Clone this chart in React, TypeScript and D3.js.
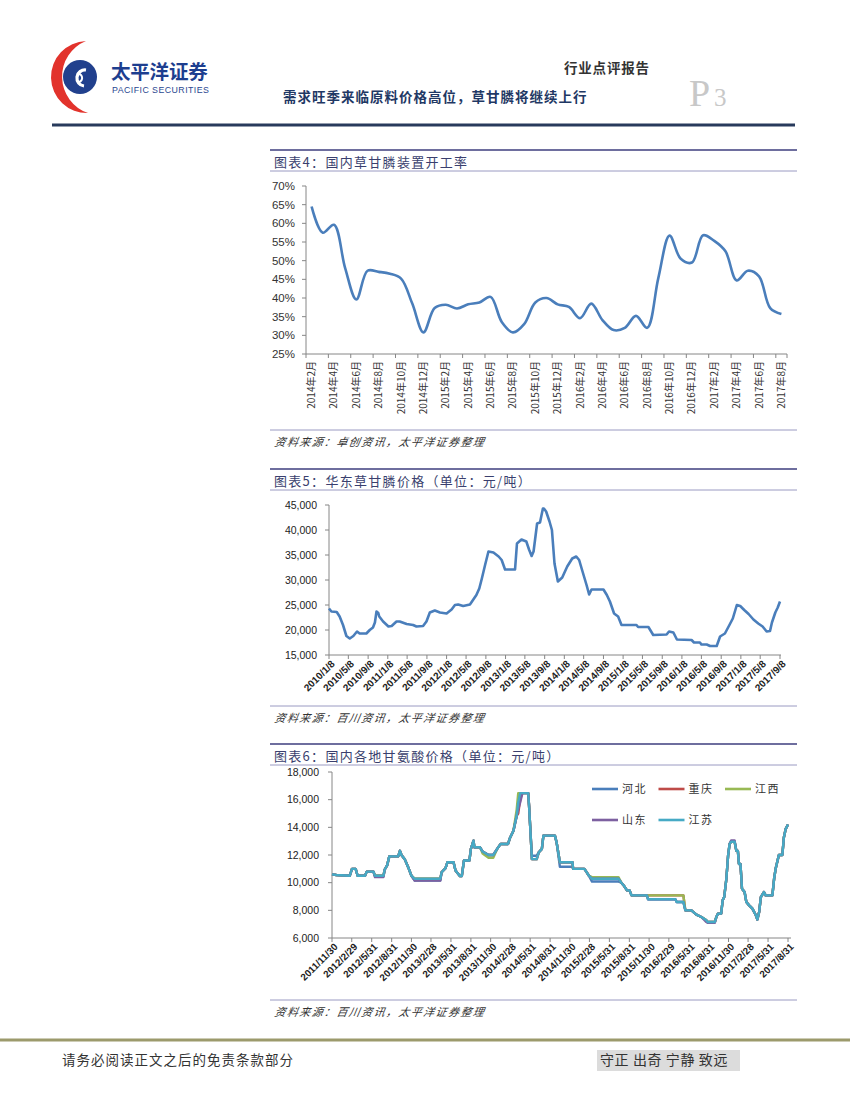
import React from "react";
import * as d3 from "d3";

// ---------------- Chart 4: 国内草甘膦装置开工率 (monthly, %) ----------------
const rateLabels = [
  "2014年2月", "2014年4月", "2014年6月", "2014年8月", "2014年10月", "2014年12月",
  "2015年2月", "2015年4月", "2015年6月", "2015年8月", "2015年10月", "2015年12月",
  "2016年2月", "2016年4月", "2016年6月", "2016年8月", "2016年10月", "2016年12月",
  "2017年2月", "2017年4月", "2017年6月", "2017年8月",
];
const rateValues = [
  64.5, 57.5, 59.6, 48, 39.6, 47.3, 47, 46.5, 45.2, 38.5, 30.8, 37.3, 38.2, 37.2, 38.3,
  38.8, 40.3, 33.6, 30.8, 33, 38.8, 40, 38.3, 37.6, 34.6, 38.5, 34.1, 31.4, 32, 35.2, 32,
  45.4, 56.7, 50.5, 49.5, 56.8, 55.3, 52.5, 44.7, 47.3, 45.8, 37.3, 35.7,
];
const rateTicks = [25, 30, 35, 40, 45, 50, 55, 60, 65, 70];

// ---------------- Chart 5: 华东草甘膦价格 ----------------
const priceDates = [
  "2010-01-08", "2010-01-23", "2010-02-25", "2010-03-15", "2010-04-05", "2010-04-26", "2010-05-17",
  "2010-06-08", "2010-07-01", "2010-07-17", "2010-08-28", "2010-09-18", "2010-10-08", "2010-10-20",
  "2010-10-30", "2010-11-10", "2010-11-16", "2010-12-10", "2011-01-12", "2011-02-01", "2011-03-03",
  "2011-03-23", "2011-05-05", "2011-06-14", "2011-07-05", "2011-08-15", "2011-09-05", "2011-09-26",
  "2011-10-27", "2011-11-28", "2012-01-08", "2012-02-08", "2012-02-29", "2012-03-20", "2012-04-20",
  "2012-06-01", "2012-06-20", "2012-07-11", "2012-07-29", "2012-08-14", "2012-09-03", "2012-09-24",
  "2012-10-25", "2012-11-26", "2012-12-15", "2013-01-05", "2013-03-08", "2013-03-20", "2013-04-17",
  "2013-05-17", "2013-06-04", "2013-06-19", "2013-07-01", "2013-07-23", "2013-08-10", "2013-08-28",
  "2013-09-03", "2013-09-17", "2013-10-08", "2013-10-23", "2013-11-08", "2013-11-29", "2013-12-26",
  "2014-01-26", "2014-02-26", "2014-03-23", "2014-04-10", "2014-05-01", "2014-05-26", "2014-06-11",
  "2014-06-26", "2014-09-08", "2014-09-29", "2014-10-18", "2014-11-13", "2014-12-08", "2014-12-29",
  "2015-04-01", "2015-04-11", "2015-06-14", "2015-07-14", "2015-10-05", "2015-10-20", "2015-11-16",
  "2015-12-08", "2016-03-08", "2016-03-23", "2016-04-29", "2016-05-08", "2016-06-10", "2016-07-01",
  "2016-08-11", "2016-09-01", "2016-10-01", "2016-10-29", "2016-11-19", "2016-12-14", "2017-01-04",
  "2017-01-29", "2017-02-25", "2017-03-27", "2017-04-26", "2017-05-23", "2017-06-17", "2017-07-08",
  "2017-07-20", "2017-08-10", "2017-08-25", "2017-09-08",
];
const priceValues = [
  24300, 23700, 23600, 22700, 21000, 18800, 18300,
  18800, 19700, 19300, 19300, 20000, 20500, 21500,
  23700, 23400, 22700, 21700, 20700, 20800, 21700,
  21700, 21200, 21000, 20700, 20800, 21700, 23500,
  23900, 23500, 23300, 24100, 25000, 25100, 24800,
  25100, 26000, 27000, 28300, 30300, 33000, 35700,
  35500, 34700, 34000, 32100, 32100, 37300, 38100,
  37700, 36000, 34800, 35700, 41300, 41500, 44300,
  44300, 43700, 41700, 40000, 33300, 29700, 30500,
  32700, 34300, 34700, 34000, 31700, 29000, 27100,
  28100, 28100, 27000, 25700, 23300, 22700, 21000,
  21000, 20600, 20600, 19000, 19100, 19700, 19500,
  18100, 18000, 17500, 17500, 17100, 17100, 16800,
  16800, 18700, 19300, 21000, 22300, 25000, 24800,
  24000, 23200, 22100, 21300, 20700, 19700, 19800,
  21500, 23500, 24500, 25700,
];
const priceTickLabels = [
  "2010/1/8", "2010/5/8", "2010/9/8", "2011/1/8", "2011/5/8", "2011/9/8", "2012/1/8", "2012/5/8",
  "2012/9/8", "2013/1/8", "2013/5/8", "2013/9/8", "2014/1/8", "2014/5/8", "2014/9/8", "2015/1/8",
  "2015/5/8", "2015/9/8", "2016/1/8", "2016/5/8", "2016/9/8", "2017/1/8", "2017/5/8", "2017/9/8",
];
const priceTicks = [15000, 20000, 25000, 30000, 35000, 40000, 45000];

// ---------------- Chart 6: 国内各地甘氨酸价格 ----------------
const glyDates = [
  "2011-11-30", "2011-12-20", "2012-02-20", "2012-03-01", "2012-03-18", "2012-03-27", "2012-04-30",
  "2012-05-08", "2012-06-08", "2012-06-15", "2012-07-24", "2012-07-30", "2012-08-10", "2012-08-20",
  "2012-09-30", "2012-10-08", "2012-10-15", "2012-10-30", "2012-11-18", "2012-11-30", "2012-12-15",
  "2013-04-12", "2013-04-18", "2013-05-06", "2013-05-15", "2013-06-12", "2013-06-21", "2013-07-12",
  "2013-07-20", "2013-07-30", "2013-08-24", "2013-08-31", "2013-09-12", "2013-09-16", "2013-10-12",
  "2013-10-24", "2013-11-20", "2013-12-12", "2013-12-30", "2014-01-15", "2014-02-18", "2014-02-28",
  "2014-03-15", "2014-03-30", "2014-04-06", "2014-04-15", "2014-04-25", "2014-05-22", "2014-05-26",
  "2014-05-31", "2014-06-08", "2014-06-30", "2014-07-10", "2014-07-24", "2014-07-31", "2014-09-22",
  "2014-09-30", "2014-10-15", "2014-12-12", "2014-12-15", "2015-02-05", "2015-02-15", "2015-02-25",
  "2015-03-12", "2015-07-12", "2015-07-25", "2015-08-05", "2015-08-20", "2015-09-01", "2015-09-10",
  "2015-11-20", "2015-11-25", "2016-03-30", "2016-04-05", "2016-05-06", "2016-05-15", "2016-06-12",
  "2016-07-05", "2016-07-28", "2016-08-20", "2016-08-25", "2016-09-28", "2016-10-05", "2016-10-12",
  "2016-10-27", "2016-11-03", "2016-11-10", "2016-11-20", "2016-11-28", "2016-12-05", "2016-12-12",
  "2016-12-28", "2017-01-05", "2017-01-12", "2017-01-17", "2017-01-24", "2017-01-31", "2017-02-12",
  "2017-02-20", "2017-03-05", "2017-03-20", "2017-04-05", "2017-04-12", "2017-04-20", "2017-04-28",
  "2017-05-12", "2017-05-20", "2017-06-20", "2017-06-28", "2017-07-05", "2017-07-20", "2017-08-05",
  "2017-08-12", "2017-08-20", "2017-08-31",
];
const hebei = [
  10600, 10550, 10500, 11000, 11000, 10500, 10500, 10800, 10800, 10500,
  10500, 10950, 11250, 11900, 11900, 12300, 12000, 11700, 11000, 10500,
  10150, 10150, 10750, 11050, 11480, 11480, 10880, 10470, 10470, 11600,
  11600, 12440, 13040, 12560, 12560, 12250, 12000, 12000, 12440, 12800,
  12800, 13270, 13750, 14830, 15800, 16470, 16470, 16470, 15550, 14100,
  11950, 11950, 12200, 12440, 13400, 13400, 12900, 11150, 11150, 11000,
  11000, 10760, 10520, 10080, 10080, 10000, 9800, 9440, 9440, 9080,
  9080, 8800, 8800, 8600, 8600, 8000, 8000, 7690, 7520, 7280,
  7160, 7160, 7520, 7760, 7760, 8720, 8960, 10280, 11960, 12800,
  12960, 12960, 12300, 12300, 11350, 11350, 9560, 9320, 8600, 8360,
  8120, 7640, 7330, 7880, 8960, 9320, 9080, 9080, 10280, 11000,
  12000, 12000, 13270, 13870, 14200,
];
const chongqing = [
  10600, 10550, 10500, 11000, 11000, 10500, 10500, 10800, 10800, 10500,
  10500, 10950, 11250, 11900, 11900, 12300, 12000, 11700, 11000, 10500,
  10280, 10280, 10750, 11050, 11480, 11480, 10880, 10470, 10470, 11600,
  11600, 12440, 13040, 12560, 12560, 12250, 12000, 12000, 12440, 12800,
  12800, 13270, 13750, 14830, 15000, 16000, 16470, 16470, 15550, 14100,
  11700, 11700, 12200, 12440, 13400, 13400, 12900, 11480, 11480, 11000,
  11000, 10760, 10520, 10280, 10280, 10000, 9800, 9440, 9440, 9080,
  9080, 9080, 9080, 9080, 9080, 8000, 8000, 7690, 7520, 7280,
  7160, 7160, 7520, 7760, 7760, 8720, 8960, 10280, 11960, 12800,
  12960, 12960, 12300, 12300, 11350, 11350, 9560, 9320, 8600, 8360,
  8120, 7640, 7330, 7880, 8960, 9320, 9080, 9080, 10280, 11000,
  12000, 12000, 13270, 13870, 14200,
];
const jiangxi = [
  10600, 10550, 10500, 11000, 11000, 10500, 10500, 10800, 10800, 10500,
  10500, 10950, 11250, 11900, 11900, 12300, 12000, 11700, 11000, 10500,
  10280, 10280, 10750, 11050, 11480, 11480, 10880, 10470, 10470, 11600,
  11600, 12440, 13040, 12560, 12560, 12100, 11800, 11800, 12440, 12800,
  12800, 13270, 13750, 15300, 16470, 16470, 16470, 16470, 15550, 14100,
  11700, 11700, 12200, 12440, 13400, 13400, 12900, 11480, 11480, 11000,
  11000, 10760, 10520, 10400, 10400, 10000, 9800, 9440, 9440, 9080,
  9080, 9080, 9080, 9080, 9080, 8000, 8000, 7690, 7520, 7280,
  7160, 7160, 7520, 7760, 7760, 8720, 8960, 10280, 11960, 12800,
  12960, 12960, 12300, 12300, 11350, 11350, 9560, 9320, 8600, 8360,
  8120, 7640, 7330, 7880, 8960, 9320, 9080, 9080, 10280, 11000,
  12000, 12000, 13270, 13870, 14200,
];
const shandong = [
  10600, 10550, 10500, 11000, 11000, 10500, 10500, 10800, 10800, 10400,
  10400, 10950, 11250, 11900, 11900, 12300, 12000, 11700, 11000, 10500,
  10150, 10150, 10750, 11050, 11480, 11480, 10880, 10470, 10470, 11600,
  11600, 12440, 13040, 12560, 12560, 12250, 12000, 12000, 12440, 12800,
  12800, 13270, 13750, 14830, 15300, 15800, 16470, 16470, 15550, 14100,
  11700, 11700, 12200, 12440, 13400, 13400, 12900, 11480, 11480, 11000,
  11000, 10760, 10520, 10280, 10280, 10000, 9800, 9440, 9440, 9080,
  9080, 8800, 8800, 8600, 8600, 8000, 8000, 7690, 7520, 7150,
  7100, 7100, 7520, 7760, 7760, 8720, 8960, 10280, 11960, 12800,
  13050, 13050, 12300, 12300, 11350, 11350, 9560, 9320, 8600, 8360,
  8120, 7640, 7330, 7880, 8960, 9320, 9080, 9080, 10280, 11000,
  12000, 12000, 13270, 13870, 14200,
];
const jiangsu = [
  10600, 10550, 10500, 11000, 11000, 10500, 10500, 10800, 10800, 10500,
  10500, 10950, 11250, 11900, 11900, 12300, 12000, 11700, 11000, 10500,
  10280, 10280, 10750, 11050, 11480, 11480, 10880, 10470, 10470, 11600,
  11600, 12440, 13040, 12560, 12560, 12250, 12000, 12000, 12440, 12800,
  12800, 13270, 13750, 14830, 15800, 16470, 16470, 16470, 15550, 14100,
  11700, 11700, 12200, 12440, 13400, 13400, 12900, 11480, 11480, 11000,
  11000, 10760, 10520, 10280, 10280, 10000, 9800, 9440, 9440, 9080,
  9080, 8800, 8800, 8600, 8600, 8000, 8000, 7690, 7520, 7280,
  7160, 7160, 7520, 7760, 7760, 8720, 8960, 10280, 11960, 12800,
  12960, 12960, 12300, 12300, 11350, 11350, 9560, 9320, 8600, 8360,
  8120, 7640, 7330, 7880, 8960, 9320, 9080, 9080, 10280, 11000,
  12000, 12000, 13270, 13870, 14200,
];
const glySeriesNames = ["河北", "重庆", "江西", "山东", "江苏"];
const glySeriesValues = [hebei, chongqing, jiangxi, shandong, jiangsu];
const glyColors = ["#4a7ebb", "#be4b48", "#98b954", "#7d60a0", "#46aac5"];
const glyTickLabels = [
  "2011/11/30", "2012/2/29", "2012/5/31", "2012/8/31", "2012/11/30", "2013/2/28", "2013/5/31",
  "2013/8/31", "2013/11/30", "2014/2/28", "2014/5/31", "2014/8/31", "2014/11/30", "2015/2/28",
  "2015/5/31", "2015/8/31", "2015/11/30", "2016/2/29", "2016/5/31", "2016/8/31", "2016/11/30",
  "2017/2/28", "2017/5/31", "2017/8/31",
];
const glyTicks = [6000, 8000, 10000, 12000, 14000, 16000, 18000];

// ---------------- styles ----------------
const CJK = "'Noto Sans CJK SC', 'Noto Sans', sans-serif";
const LAT = "'Liberation Sans', Arial, sans-serif";
const AXIS = "#868686";
const LINE_BLUE = "#4a7ebb";
const SEC_L = 270;
const SEC_R = 797;

const parseDash = d3.timeParse("%Y-%m-%d");
const parseSlash = d3.timeParse("%Y/%m/%d");
const fmtThousands = d3.format(",");

function Section({ top, title, sepY, source }: { top: number; title: string; sepY: number; source: string }) {
  return (
    <g>
      <line x1={SEC_L} x2={SEC_R} y1={top} y2={top} stroke="#6e6e9e" strokeWidth={2.2} />
      <text x={274} y={top + 17} fontFamily={CJK} fontSize={13} letterSpacing={1.3} fill="#3a3f6e">
        {title}
      </text>
      <line x1={SEC_L} x2={SEC_R} y1={top + 21} y2={top + 21} stroke="#9a9ac2" strokeWidth={1} />
      <line x1={SEC_L} x2={SEC_R} y1={sepY} y2={sepY} stroke="#9a9ac2" strokeWidth={1} />
      <text x={274} y={sepY + 16} fontFamily={CJK} fontSize={11} fontStyle="italic" letterSpacing={1.4} fill="#333"
        transform={`skewX(-10) translate(${(sepY + 16) * Math.tan((10 * Math.PI) / 180)},0)`}>
        {source}
      </text>
    </g>
  );
}

function Chart4() {
  const x = d3.scaleBand<number>().domain(d3.range(rateValues.length)).range([306, 787]);
  const y = d3.scaleLinear().domain([25, 70]).range([354, 186]);
  const cx = (i: number) => (x(i) as number) + x.bandwidth() / 2;
  const path = d3
    .line<number>()
    .x((_, i) => cx(i))
    .y((d) => y(d))
    .curve(d3.curveCatmullRom.alpha(0.5))(rateValues) as string;
  const tickIdx = d3.range(0, rateValues.length, 2);
  return (
    <g>
      <line x1={306} x2={306} y1={y(70)} y2={y(25)} stroke={AXIS} />
      {rateTicks.map((t) => (
        <g key={t}>
          <line x1={302} x2={306} y1={y(t)} y2={y(t)} stroke={AXIS} />
          <text x={295} y={y(t)} dy="0.35em" textAnchor="end" fontFamily={LAT} fontSize={11.5} fill="#333">
            {t}%
          </text>
        </g>
      ))}
      <line x1={306} x2={787} y1={y(25)} y2={y(25)} stroke={AXIS} />
      {tickIdx.map((i) => (
        <line key={i} x1={x(i) as number} x2={x(i) as number} y1={354} y2={358} stroke={AXIS} />
      ))}
      <line x1={787} x2={787} y1={354} y2={358} stroke={AXIS} />
      {tickIdx.map((i, k) => (
        <text key={i} transform={`translate(${cx(i)},361) rotate(-90)`} dy="0.35em" textAnchor="end"
          fontFamily={CJK} fontSize={10} fill="#333">
          {rateLabels[k]}
        </text>
      ))}
      <path d={path} fill="none" stroke={LINE_BLUE} strokeWidth={2.6} strokeLinejoin="round" />
    </g>
  );
}

function Chart5() {
  const dates = priceDates.map((d) => parseDash(d) as Date);
  const ticksD = priceTickLabels.map((d) => parseSlash(d) as Date);
  const x = d3.scaleTime().domain([ticksD[0], ticksD[ticksD.length - 1]]).range([329, 780]);
  const y = d3.scaleLinear().domain([15000, 45000]).range([655, 505]);
  const path = d3
    .line<number>()
    .x((_, i) => x(dates[i]))
    .y((d) => y(d))(priceValues) as string;
  return (
    <g>
      <line x1={329} x2={329} y1={y(45000)} y2={y(15000)} stroke={AXIS} />
      {priceTicks.map((t) => (
        <g key={t}>
          <line x1={325} x2={329} y1={y(t)} y2={y(t)} stroke={AXIS} />
          <text x={317} y={y(t)} dy="0.35em" textAnchor="end" fontFamily={LAT} fontSize={10.5} fill="#222">
            {fmtThousands(t)}
          </text>
        </g>
      ))}
      <line x1={329} x2={781} y1={655} y2={655} stroke={AXIS} />
      {ticksD.map((d, i) => (
        <g key={i}>
          <line x1={x(d)} x2={x(d)} y1={655} y2={659} stroke={AXIS} />
          <text transform={`translate(${x(d) + 4},662) rotate(-45)`} dy="0.35em" textAnchor="end"
            fontFamily={LAT} fontSize={10} fontWeight="bold" fill="#222">
            {priceTickLabels[i]}
          </text>
        </g>
      ))}
      <path d={path} fill="none" stroke={LINE_BLUE} strokeWidth={2.6} strokeLinejoin="round" />
    </g>
  );
}

function Chart6() {
  const dates = glyDates.map((d) => parseDash(d) as Date);
  const ticksD = glyTickLabels.map((d) => parseSlash(d) as Date);
  const x = d3.scaleTime().domain([ticksD[0], ticksD[ticksD.length - 1]]).range([332, 788]);
  const y = d3.scaleLinear().domain([6000, 18000]).range([938, 772]);
  const lineGen = d3
    .line<number>()
    .x((_, i) => x(dates[i]))
    .y((d) => y(d));
  const legendX0 = 592;
  const legendStep = 66.5;
  return (
    <g>
      <line x1={332} x2={332} y1={y(18000)} y2={y(6000)} stroke={AXIS} />
      {glyTicks.map((t) => (
        <g key={t}>
          <line x1={328} x2={332} y1={y(t)} y2={y(t)} stroke={AXIS} />
          <text x={319} y={y(t)} dy="0.35em" textAnchor="end" fontFamily={LAT} fontSize={10.5} fill="#222">
            {fmtThousands(t)}
          </text>
        </g>
      ))}
      <line x1={332} x2={791} y1={938} y2={938} stroke={AXIS} />
      {ticksD.map((d, i) => (
        <g key={i}>
          <line x1={x(d)} x2={x(d)} y1={938} y2={942} stroke={AXIS} />
          <text transform={`translate(${x(d) + 4},945) rotate(-45)`} dy="0.35em" textAnchor="end"
            fontFamily={LAT} fontSize={9.8} fontWeight="bold" fill="#222">
            {glyTickLabels[i]}
          </text>
        </g>
      ))}
      {glySeriesValues.map((vals, s) => (
        <path key={s} d={lineGen(vals) as string} fill="none" stroke={glyColors[s]} strokeWidth={2.4}
          strokeLinejoin="round" />
      ))}
      {glySeriesNames.map((name, s) => {
        const row = s < 3 ? 0 : 1;
        const col = s < 3 ? s : s - 3;
        const lx = legendX0 + col * legendStep;
        const ly = row === 0 ? 789 : 820;
        return (
          <g key={name}>
            <line x1={lx} x2={lx + 26} y1={ly} y2={ly} stroke={glyColors[s]} strokeWidth={2.6} />
            <text x={lx + 30} y={ly} dy="0.35em" fontFamily={CJK} fontSize={11} letterSpacing={1.5} fill="#333">
              {name}
            </text>
          </g>
        );
      })}
    </g>
  );
}

function Header() {
  return (
    <g>
      {/* logo */}
      <path d="M86,41 A36,36 0 0,0 88,113 A38.5,38.5 0 0,1 86,41 Z" fill="#e2332c" />
      <circle cx={80} cy={77} r={17} fill="#21408d" />
      <path d="M86,70 A8,8 0 1,0 84,86" fill="none" stroke="#fff" strokeWidth={3.2} />
      <path d="M77,74 A4,4 0 1,1 79,82" fill="none" stroke="#fff" strokeWidth={2} />
      <text x={111} y={79} fontFamily={CJK} fontWeight="bold" fontSize={19.5} fill="#1d3e8f" letterSpacing={-0.2}>
        太平洋证券
      </text>
      <text x={112} y={93} fontFamily={LAT} fontSize={8.8} fill="#2a4790" letterSpacing={0.45}>
        PACIFIC SECURITIES
      </text>
      <text x={564} y={73} fontFamily={CJK} fontWeight="bold" fontSize={13.5} fill="#333" letterSpacing={0.8}>
        行业点评报告
      </text>
      <text x={283} y={102} fontFamily={CJK} fontWeight="bold" fontSize={13.5} fill="#1f3864" letterSpacing={1}>
        需求旺季来临原料价格高位，草甘膦将继续上行
      </text>
      <text x={689} y={106} fontFamily="'Liberation Serif', serif" fontSize={38} fill="#c8c8c8">
        P
      </text>
      <text x={714} y={106} fontFamily="'Liberation Serif', serif" fontSize={25} fill="#c8c8c8">
        3
      </text>
      <line x1={52} x2={795} y1={125} y2={125} stroke="#283a5c" strokeWidth={3.2} />
    </g>
  );
}

function Footer() {
  return (
    <g>
      <line x1={0} x2={850} y1={1040} y2={1040} stroke="#9c9a6c" strokeWidth={3} />
      <text x={62} y={1065} fontFamily={CJK} fontSize={13.5} fill="#333" letterSpacing={1}>
        请务必阅读正文之后的免责条款部分
      </text>
      <rect x={597} y={1050} width={143} height={21} fill="#dcdcdc" />
      <text x={600} y={1065} fontFamily={CJK} fontSize={14} fill="#333" letterSpacing={0.6}>
        守正 出奇 宁静 致远
      </text>
    </g>
  );
}

export default function App() {
  return (
    <svg width={850} height={1100} viewBox="0 0 850 1100"
      style={{ position: "absolute", left: 0, top: 0, background: "#fff" }}>
      <rect x={0} y={0} width={850} height={1100} fill="#fff" />
      <Header />
      <Section top={150} title="图表4：国内草甘膦装置开工率" sepY={430} source="资料来源：卓创资讯，太平洋证券整理" />
      <Chart4 />
      <Section top={469} title="图表5：华东草甘膦价格（单位：元/吨）" sepY={706} source="资料来源：百川资讯，太平洋证券整理" />
      <Chart5 />
      <Section top={744} title="图表6：国内各地甘氨酸价格（单位：元/吨）" sepY={1000} source="资料来源：百川资讯，太平洋证券整理" />
      <Chart6 />
      <Footer />
    </svg>
  );
}
